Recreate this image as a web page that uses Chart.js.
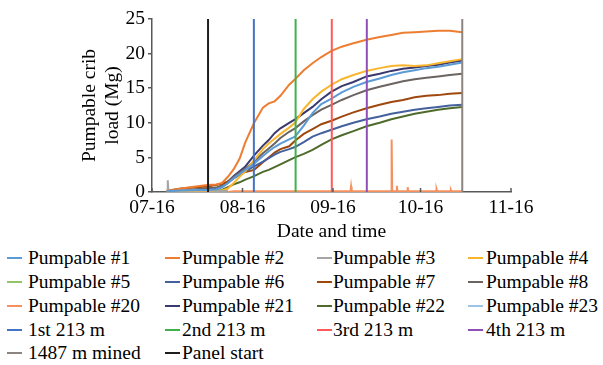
<!DOCTYPE html>
<html><head><meta charset="utf-8">
<script src="https://cdn.jsdelivr.net/npm/chart.js@4.4.0/dist/chart.umd.min.js"></script>
<style>
html,body{margin:0;padding:0;background:#fff;overflow:hidden;}
#wrap{position:relative;width:603px;height:365px;}
#c{position:absolute;left:0;top:0;}
.lt{position:absolute;font-family:'Liberation Serif','Times New Roman',serif;font-size:19.5px;color:#000;white-space:nowrap;line-height:24px;}
.sw{position:absolute;height:2.5px;width:15px;}
</style></head><body>
<div id="wrap"><canvas id="c" width="603" height="245"></canvas><div id="legend"></div></div>
<script>
// x values are days after 07-16
const tickDays   = [0, 31, 62, 92, 123];
const tickLabels = ['07-16', '08-16', '09-16', '10-16', '11-16'];

const days   = [5, 10, 15, 19, 22, 24, 26, 28, 30, 32, 35, 38, 40, 42, 44, 47, 49, 52, 55, 58, 61.5, 65, 69, 73.5, 78, 82, 86, 90, 94, 98, 102, 106.3];
const load1  = [0.1, 0.2, 0.3, 0.3, 0.4, 0.7, 1.3, 2.0, 2.6, 3.2, 4.1, 5.2, 5.9, 6.5, 7.0, 7.6, 8.0, 9.6, 11.4, 12.7, 13.5, 14.4, 15.2, 15.9, 16.4, 16.9, 17.3, 17.6, 17.9, 18.1, 18.4, 18.7];
const load2  = [0.1, 0.5, 0.8, 1.0, 1.1, 1.3, 2.2, 3.3, 4.8, 7.2, 10.0, 12.2, 12.8, 13.1, 13.9, 15.5, 16.3, 17.6, 18.6, 19.5, 20.4, 21.0, 21.5, 22.0, 22.4, 22.7, 23.0, 23.1, 23.2, 23.3, 23.3, 23.1];
const load4  = [0, 0, 0, 0.1, 0.1, 0.2, 0.5, 1.3, 2.2, 3.0, 4.6, 6.2, 7.0, 7.7, 8.4, 9.3, 10.0, 12.0, 13.4, 14.5, 15.5, 16.3, 16.9, 17.5, 17.9, 18.2, 18.3, 18.2, 18.3, 18.6, 18.9, 19.2];
const load6  = [0, 0.1, 0.2, 0.3, 0.4, 0.7, 1.3, 2.0, 2.5, 3.0, 3.7, 4.4, 4.9, 5.4, 5.8, 6.2, 6.5, 7.2, 8.0, 8.5, 9.0, 9.5, 10.0, 10.5, 10.9, 11.3, 11.6, 11.9, 12.1, 12.3, 12.5, 12.6];
const load7  = [0.2, 0.5, 0.7, 0.8, 1.0, 1.2, 1.5, 2.0, 2.5, 2.9, 3.2, 4.3, 5.0, 5.7, 6.2, 6.6, 7.4, 8.4, 9.1, 9.8, 10.3, 10.9, 11.5, 12.1, 12.6, 13.0, 13.3, 13.7, 13.9, 14.0, 14.2, 14.3];
const load8  = [0, 0.2, 0.4, 0.5, 0.6, 0.9, 1.5, 2.2, 2.8, 3.4, 4.4, 5.6, 6.3, 7.0, 7.8, 8.7, 9.2, 10.2, 11.1, 11.9, 12.6, 13.3, 14.0, 14.7, 15.2, 15.6, 16.0, 16.3, 16.5, 16.7, 16.9, 17.1];
const load21 = [0, 0.1, 0.3, 0.5, 0.6, 0.9, 1.5, 2.3, 3.0, 3.7, 5.3, 6.7, 7.5, 8.5, 9.2, 10.0, 10.5, 11.4, 12.3, 13.4, 14.5, 15.3, 15.9, 16.7, 17.1, 17.5, 17.8, 18.0, 18.2, 18.4, 18.7, 19.0];
const load22 = [0, 0, 0, 0, 0.1, 0.3, 0.7, 1.1, 1.4, 1.8, 2.3, 2.9, 3.2, 3.6, 4.0, 4.6, 5.0, 5.5, 6.1, 6.8, 7.6, 8.2, 8.8, 9.5, 10.0, 10.5, 10.9, 11.3, 11.6, 11.9, 12.1, 12.3];

const days3  = [5.2, 5.4, 5.6, 12, 20, 26];
const load3  = [0.2, 1.7, 0.2, 0.2, 0.2, 0.1];
const days5  = [5, 15, 26];
const load5  = [0.1, 0.2, 0.2];
const days23 = [5, 15, 26];
const load23 = [0.1, 0.2, 0.2];
const days20 = [26, 28, 68, 68.2, 68.4, 82, 82.1, 82.3, 83.8, 83.9, 84.1, 87.5, 87.6, 87.8, 97.4, 97.5, 97.7, 102.3, 102.4, 102.6, 106.3];
const load20 = [0, 0.1, 0.1, 0.8, 0.1, 0.1, 7.6, 0.1, 0.1, 0.9, 0.1, 0.1, 0.7, 0.1, 0.1, 0.4, 0.1, 0.1, 0.3, 0.1, 0.1];

const eventNames = ['1st 213 m', '2nd 213 m', '3rd 213 m', '4th 213 m', '1487 m mined', 'Panel start'];
const eventDays  = [34.9, 49.2, 61.6, 73.6, 106.3, 19.2];
const yMin = 0, yMax = 25;

const pts = (xs, ys) => xs.map((x, i) => ({x, y: ys[i]}));
const curve = (label, color, xs, ys) => ({label, data: pts(xs, ys), borderColor: color, backgroundColor: color,
  borderWidth: 2, pointRadius: 0, tension: 0, order: 1});

const eventColors = ['#4472C4', '#40B04A', '#FF5A5A', '#8E50B8', '#8C8480', '#1E1E1E'];

const datasets = [
  curve('Pumpable #1', '#5B9BD5', days, load1),
  curve('Pumpable #2', '#ED7D31', days, load2),
  curve('Pumpable #3', '#A5A5A5', days3, load3),
  curve('Pumpable #4', '#F9B52E', days, load4),
  curve('Pumpable #5', '#92C465', days5, load5),
  curve('Pumpable #6', '#44619D', days, load6),
  curve('Pumpable #7', '#9E480E', days, load7),
  curve('Pumpable #8', '#6B6461', days, load8),
  curve('Pumpable #20', '#F4915E', days20, load20),
  curve('Pumpable #21', '#3B3A6E', days, load21),
  curve('Pumpable #22', '#4F6B2C', days, load22),
  curve('Pumpable #23', '#9DC3E6', days23, load23),
];
eventNames.forEach((n, i) => {
  datasets.push({label: n, data: [{x: eventDays[i], y: yMin}, {x: eventDays[i], y: yMax}],
    borderColor: eventColors[i], backgroundColor: eventColors[i], borderWidth: 2, pointRadius: 0, order: 0});
});

const FONT = "'Liberation Serif','Times New Roman',serif";
Chart.defaults.font.family = FONT;
Chart.defaults.font.size = 19.5;
Chart.defaults.color = '#000';

const axisColor = '#595959';
const innerTicks = {
  id: 'innerTicks',
  afterDatasetsDraw(chart) {
    const sx = chart.scales.x, ctx = chart.ctx, b = chart.chartArea.bottom;
    ctx.save();
    ctx.strokeStyle = axisColor; ctx.lineWidth = 1.5;
    tickDays.forEach(d => {
      const px = sx.getPixelForValue(d);
      ctx.beginPath(); ctx.moveTo(px, b); ctx.lineTo(px, b - 4); ctx.stroke();
    });
    ctx.restore();
  }
};

new Chart(document.getElementById('c'), {
  type: 'line',
  data: {datasets},
  options: {
    responsive: false, animation: false, devicePixelRatio: 1,
    layout: {padding: {left: 74, right: 92, top: 19, bottom: 0}},
    plugins: {legend: {display: false}, tooltip: {enabled: false}},
    scales: {
      x: {
        type: 'linear', min: tickDays[0], max: tickDays[tickDays.length - 1],
        afterBuildTicks: s => { s.ticks = tickDays.map(v => ({value: v})); },
        afterFit: s => { s.height = 53; },
        ticks: {autoSkip: false, maxRotation: 0, padding: 4, color: '#000', callback: (v, i) => tickLabels[i]},
        grid: {display: false, drawTicks: false},
        border: {display: true, color: axisColor, width: 1.5},
        title: {display: true, text: 'Date and time', color: '#000', padding: {top: 0, bottom: 1}}
      },
      y: {
        min: yMin, max: yMax,
        afterFit: s => { s.width = 78; },
        ticks: {stepSize: 5, padding: 3, color: '#000'},
        grid: {display: true, drawOnChartArea: false, drawTicks: true, tickLength: 4, color: axisColor, lineWidth: 1.5},
        border: {display: true, color: axisColor, width: 1.5},
        title: {display: true, text: ['Pumpable crib', 'load (Mg)'], color: '#000', padding: {top: 4, bottom: 0}}
      }
    }
  },
  plugins: [innerTicks]
});

// HTML legend in 4 columns
const swLeft = [7, 165, 317, 468];
const txLeft = [28, 182, 333, 486];
const rowY = [258, 282, 306, 330, 353];
const lg = document.getElementById('legend');
datasets.forEach((d, i) => {
  const r = Math.floor(i / 4), c = i % 4;
  const sw = document.createElement('div');
  sw.className = 'sw';
  sw.style.left = swLeft[c] + 'px';
  sw.style.top = (rowY[r] - 1.25) + 'px';
  sw.style.background = d.borderColor;
  lg.appendChild(sw);
  const t = document.createElement('div');
  t.className = 'lt';
  t.style.left = txLeft[c] + 'px';
  t.style.top = (rowY[r] - 12) + 'px';
  t.textContent = d.label;
  lg.appendChild(t);
});
</script>
</body></html>
